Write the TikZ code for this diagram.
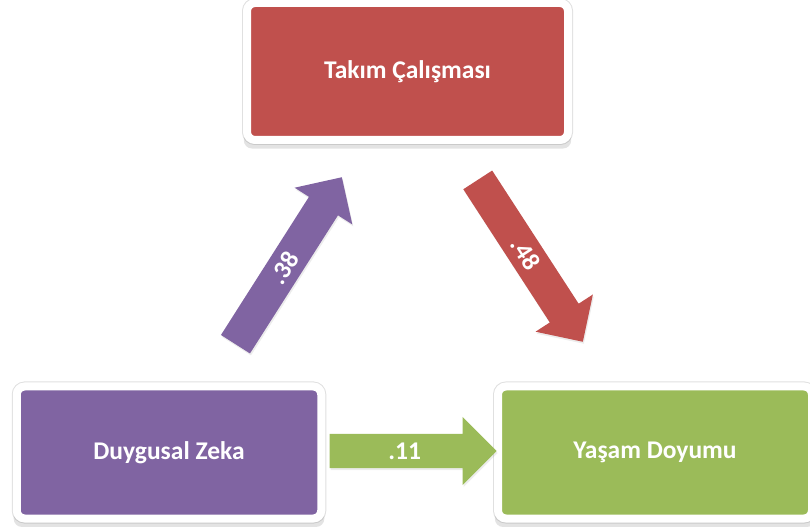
\documentclass[tikz,border=0pt]{standalone}
\usepackage{fontspec}
\setmainfont{Carlito}
\usetikzlibrary{shapes.arrows}
\usetikzlibrary{shadows}
\definecolor{kirmizi}{HTML}{C0504D}
\definecolor{mor}{HTML}{8064A2}
\definecolor{yesil}{HTML}{9BBB59}

\begin{document}
\begin{tikzpicture}[x=1pt,y=1pt,
  yazi/.style={text=white,font=\fontsize{25.5}{30}\selectfont\bfseries},
  kutu/.style={yazi,rectangle,rounded corners=8pt,draw=white,line width=8pt,
    preaction={draw=black!12,line width=10pt},
    drop shadow={shadow xshift=0pt,shadow yshift=-7pt,shadow scale=1.02,opacity=.22}},
  ok/.style={yazi,single arrow,single arrow head extend=17pt,inner xsep=6pt,
    inner ysep=8.5pt,text height=17pt,text depth=0pt,
    drop shadow={shadow xshift=1pt,shadow yshift=-2pt,opacity=.15}}]
\useasboundingbox (0,0) rectangle (810,527);
% kutular
\node[kutu,fill=kirmizi,minimum width=321pt,minimum height=137pt] (takim) at (407.5,455.5) {Takım Çalışması};
\node[kutu,fill=mor,minimum width=304.5pt,minimum height=132pt] (zeka) at (169,74.5) {Duygusal Zeka};
\node[kutu,fill=yesil,minimum width=314pt,minimum height=132pt] (doyum) at (655,74.5) {Yaşam Doyumu};
% oklar
\node[ok,fill=yesil,minimum height=167pt,anchor=tip] (ok11) at (497,76) {.11};
\node[ok,fill=mor,minimum height=198pt,rotate=57.5,anchor=tip] (ok38) at (342,350) {.38};
\node[ok,fill=kirmizi,minimum height=193pt,rotate=-57,anchor=tip] (ok48) at (583,185) {.48};
\end{tikzpicture}
\end{document}
